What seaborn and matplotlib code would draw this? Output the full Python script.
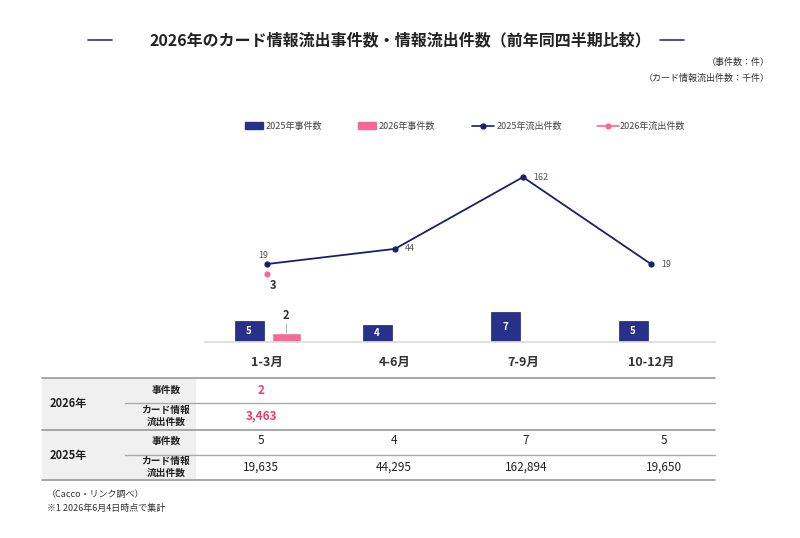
import matplotlib
matplotlib.use("Agg")
import matplotlib.pyplot as plt
import seaborn as sns
import pandas as pd
from matplotlib.lines import Line2D
from matplotlib.patches import Rectangle

sns.set_theme(style="white")
plt.rcParams['font.family'] = ['Noto Sans CJK JP', 'DejaVu Sans']

quarters = ["1-3月", "4-6月", "7-9月", "10-12月"]
cases_2025 = [5, 4, 7, 5]
cases_2026 = [2]
leak_2025 = [19, 44, 162, 19]
leak_2026 = [3]
leak_2025_full = ["19,635", "44,295", "162,894", "19,650"]
leak_2026_full = ["3,463"]

NAVY = "#27318a"
LNAVY = "#1a1f6e"
PINK = "#f7679a"
RED = "#f03c63"

W, H = 800, 538
fig = plt.figure(figsize=(8, 5.38), dpi=100)

def fx(px): return px / W
def fy(py): return 1 - py / H

ax = fig.add_axes([fx(205), fy(342), fx(715) - fx(205), (342 - 150) / H])
x0 = 267; sp = 128
ax.set_xlim((205 - x0) / sp, (715 - x0) / sp)
ax.set_ylim(0, 192 / 4.3)
xs = list(range(len(quarters)))
bw = 29 / sp
b1 = ax.bar([x - 18 / sp for x in xs], cases_2025, width=bw, color=NAVY, edgecolor="#1a237e", lw=0.5)
b2 = ax.bar([x + 19 / sp for x in xs[:len(cases_2026)]], cases_2026, width=bw, color=PINK)
for r, v in zip(b1, cases_2025):
    ax.text(r.get_x() + r.get_width() / 2, v / 2, str(v), ha="center", va="center",
            color="white", fontsize=7, fontweight="bold")
for r, v in zip(b2, cases_2026):
    cx = r.get_x() + r.get_width() / 2
    ax.plot([cx, cx], [v + 0.3, v + 2.2], color="#999", lw=0.6)
    ax.text(cx, v + 2.6, str(v), ha="center", va="bottom", fontsize=8, fontweight="bold", color="#333")
for s in ["top", "right", "left"]:
    ax.spines[s].set_visible(False)
ax.spines["bottom"].set_color("#dddddd")
ax.set_yticks([])
ax.set_xticks(xs)
ax.set_xticklabels(quarters, fontsize=9, fontweight="bold", color="#333")
ax.tick_params(axis="x", length=0, pad=10)

ax2 = ax.twinx()
ax2.set_ylim(-66.4 / 0.608, (192 - 66.4) / 0.608)
df25 = pd.DataFrame({"x": xs, "y": leak_2025})
df26 = pd.DataFrame({"x": xs[:len(leak_2026)], "y": leak_2026})
sns.lineplot(data=df25, x="x", y="y", ax=ax2, color=LNAVY, lw=1.3, marker="o", markersize=4.5,
             markeredgewidth=0)
sns.lineplot(data=df26, x="x", y="y", ax=ax2, color=PINK, lw=1.3, marker="o", markersize=4.5,
             markeredgewidth=0)
for i, v in enumerate(leak_2025):
    if i == 0:
        ax2.text(i - 0.03, v + 7, str(v), ha="center", va="bottom", fontsize=6.5, color="#555")
    else:
        ax2.text(i + 0.08, v, str(v), ha="left", va="center", fontsize=6.5, color="#555")
for i, v in enumerate(leak_2026):
    ax2.text(i + 0.05, v - 8, str(v), ha="center", va="top", fontsize=8, fontweight="bold", color="#333")
ax2.set_yticks([]); ax2.set_ylabel(""); ax2.set_xlabel("")
ax.set_xlabel("")
for s in ax2.spines.values():
    s.set_visible(False)

fig.text(fx(400), fy(40), "2026年のカード情報流出事件数・情報流出件数（前年同四半期比較）",
         ha="center", va="center", fontsize=11.5, fontweight="bold", color="#222")
fig.add_artist(Line2D([fx(88), fx(112)], [fy(40)] * 2, color=NAVY, lw=1.2))
fig.add_artist(Line2D([fx(660), fx(684)], [fy(40)] * 2, color=NAVY, lw=1.2))
fig.text(fx(770), fy(62), "（事件数：件）", ha="right", va="center", fontsize=6.5, color="#333")
fig.text(fx(770), fy(78), "（カード情報流出件数：千件）", ha="right", va="center", fontsize=6.5, color="#333")

ly = fy(126)
fig.add_artist(Rectangle((fx(245), ly - 3 / H), 18 / W, 7 / H, color=NAVY, transform=fig.transFigure))
fig.text(fx(266), ly, "2025年事件数", va="center", fontsize=6.5, color="#444")
fig.add_artist(Rectangle((fx(358), ly - 3 / H), 18 / W, 7 / H, color=PINK, transform=fig.transFigure))
fig.text(fx(379), ly, "2026年事件数", va="center", fontsize=6.5, color="#444")
fig.add_artist(Line2D([fx(472), fx(494)], [ly] * 2, color=LNAVY, lw=1.2))
fig.add_artist(Line2D([fx(483)], [ly], color=LNAVY, marker="o", markersize=3.5, lw=0))
fig.text(fx(497), ly, "2025年流出件数", va="center", fontsize=6.5, color="#444")
fig.add_artist(Line2D([fx(597), fx(619)], [ly] * 2, color=PINK, lw=1.2))
fig.add_artist(Line2D([fx(608)], [ly], color=PINK, marker="o", markersize=3.5, lw=0))
fig.text(fx(620), ly, "2026年流出件数", va="center", fontsize=6.5, color="#444")

fig.add_artist(Rectangle((fx(42), fy(480)), (195 - 42) / W, (480 - 378) / H, color="#f0f0f0",
                         transform=fig.transFigure, zorder=0))
for yy, xl, c, lw in [(378, 42, "#999", 1.2), (403, 125, "#aaa", 1), (430, 42, "#999", 1.2),
                      (455, 125, "#aaa", 1), (480, 42, "#999", 1.2)]:
    fig.add_artist(Line2D([fx(xl), fx(715)], [fy(yy)] * 2, color=c, lw=lw))
fig.text(fx(68), fy(404), "2026年", ha="center", va="center", fontsize=8, fontweight="bold", color="#222")
fig.text(fx(68), fy(455), "2025年", ha="center", va="center", fontsize=8, fontweight="bold", color="#222")
for yc in (390, 441):
    fig.text(fx(166), fy(yc), "事件数", ha="center", va="center", fontsize=7, fontweight="bold", color="#222")
for yc in (416, 467):
    fig.text(fx(166), fy(yc), "カード情報\n流出件数", ha="center", va="center", fontsize=7,
             fontweight="bold", color="#222", linespacing=1.2)
colx = [261, 394, 526, 664]
for i, v in enumerate(cases_2026):
    fig.text(fx(colx[i]), fy(391), str(v), ha="center", va="center", fontsize=8.5, fontweight="bold", color=RED)
for i, v in enumerate(leak_2026_full):
    fig.text(fx(colx[i]), fy(416), v, ha="center", va="center", fontsize=8.5, fontweight="bold", color=RED)
for i, v in enumerate(cases_2025):
    fig.text(fx(colx[i]), fy(441), str(v), ha="center", va="center", fontsize=8.5, color="#222")
for i, v in enumerate(leak_2025_full):
    fig.text(fx(colx[i]), fy(467), v, ha="center", va="center", fontsize=8.5, color="#222")

fig.text(fx(47), fy(494), "（Cacco・リンク調べ）", va="center", fontsize=6.5, color="#333")
fig.text(fx(47), fy(508), "※1 2026年6月4日時点で集計", va="center", fontsize=6.5, color="#333")

fig.savefig("out.png", dpi=100, facecolor="white")
